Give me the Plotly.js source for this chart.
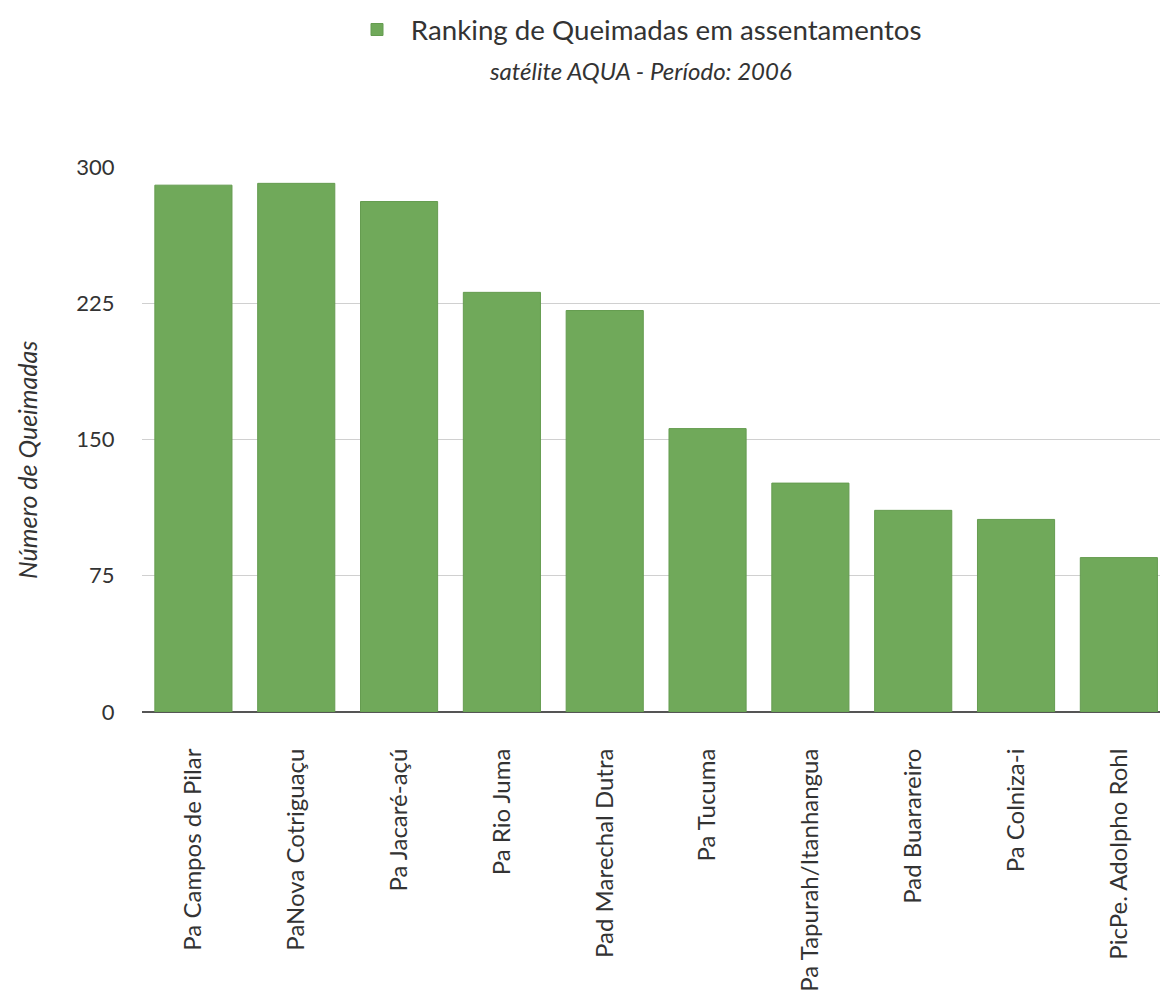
<!DOCTYPE html>
<html>
<head>
<meta charset="utf-8">
<script src="https://cdn.plot.ly/plotly-3.0.1.min.js"></script>
<style>html,body{margin:0;padding:0;background:#fff;overflow:hidden}</style>
</head>
<body>
<div id="chart" style="width:1160px;height:999px"></div>
<script>
const categories = ["Pa Campos de Pilar","PaNova Cotriguaçu","Pa Jacaré-açú","Pa Rio Juma","Pad Marechal Dutra","Pa Tucuma","Pa Tapurah/Itanhangua","Pad Buarareiro","Pa Colniza-i","PicPe. Adolpho Rohl"];
const values = [290, 291, 281, 231, 221, 156, 126, 111, 106, 85];
const tickValues = [0, 75, 150, 225, 300];
const seriesName = "Ranking de Queimadas em assentamentos";
const subtitle = "satélite AQUA - Período: 2006";
const yTitle = "Número de Queimadas";

const FONT = "Lato, 'Open Sans', sans-serif";
const trace = {
  type: "bar",
  x: categories,
  y: values,
  name: "\u2002" + seriesName,
  showlegend: true,
  marker: {color: "#70a95a", line: {color: "#659c50", width: 1}},
  hoverinfo: "x+y"
};
const layout = {
  width: 1160, height: 999,
  margin: {l: 142, r: 0, t: 167, b: 287},
  paper_bgcolor: "#fff", plot_bgcolor: "#fff",
  font: {family: FONT, color: "#333"},
  bargap: 0.25,
  showlegend: true,
  legend: {
    xref: "container", yref: "container",
    x: 357/1160, y: 1 - 30/999, xanchor: "left", yanchor: "middle",
    orientation: "h",
    font: {family: FONT, size: 27.7, color: "#333"}
  },
  xaxis: {
    type: "category",
    range: [-0.5, 9.4],
    tickangle: -90,
    ticks: "outside", ticklen: 26, tickcolor: "rgba(0,0,0,0)",
    tickfont: {family: FONT, size: 24, color: "#333"},
    showgrid: false, showline: false, zeroline: false
  },
  yaxis: {
    range: [0, 300],
    tickvals: tickValues,
    ticks: "outside", ticklen: 22, tickcolor: "rgba(0,0,0,0)",
    tickfont: {family: FONT, size: 22, color: "#333"},
    showgrid: true, gridcolor: "#d0d0d0", gridwidth: 1,
    zeroline: true, zerolinecolor: "#555", zerolinewidth: 1.5,
    showline: false
  },
  annotations: [{
    xref: "paper", yref: "paper",
    x: (640-142)/1018, y: (712-70)/545,
    xanchor: "center", yanchor: "middle",
    text: "<i>" + subtitle + "</i>",
    showarrow: false,
    font: {family: FONT, size: 24, color: "#333"}
  }, {
    xref: "paper", yref: "paper",
    x: (27-142)/1018, y: (712-460)/545,
    xanchor: "center", yanchor: "middle",
    textangle: -90,
    text: "<i>" + yTitle + "</i>",
    showarrow: false,
    font: {family: FONT, size: 25, color: "#333"}
  }]
};
Plotly.newPlot("chart", [trace], layout, {displayModeBar: false, staticPlot: true});
</script>
</body>
</html>
